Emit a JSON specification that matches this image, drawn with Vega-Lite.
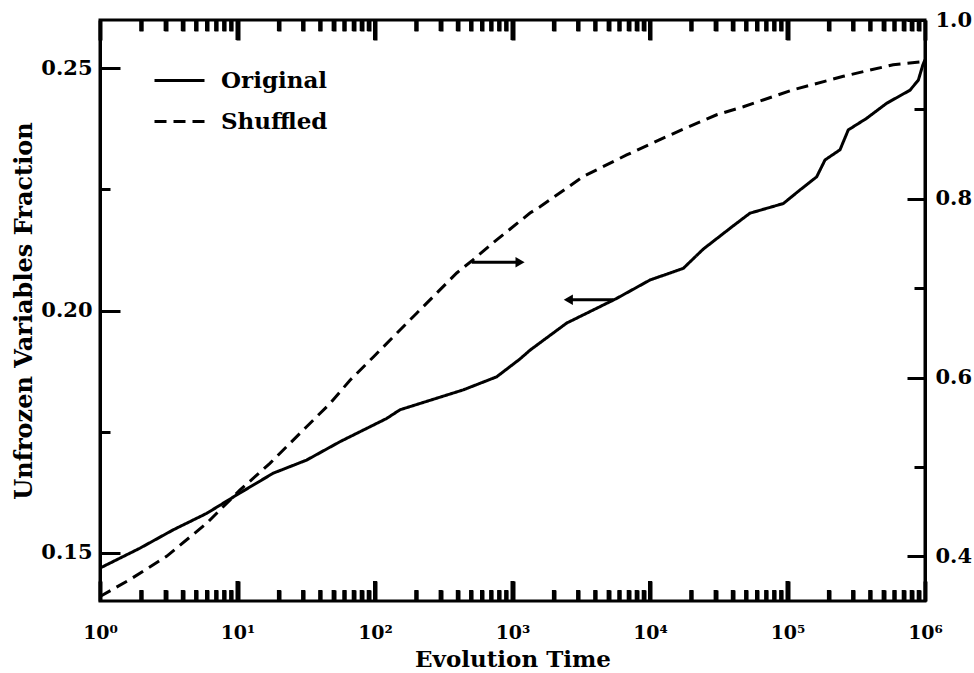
{
  "$schema": "https://vega.github.io/schema/vega-lite/v6.json",
  "width": 825,
  "height": 581,
  "autosize": "none",
  "padding": {"left": 100, "top": 20, "right": 49, "bottom": 72},
  "background": "white",
  "view": {"stroke": "black", "strokeWidth": 3},
  "config": {
    "font": "DejaVu Serif",
    "axis": {
      "domainColor": "black", "domainWidth": 3,
      "labelFont": "DejaVu Serif", "labelFontWeight": "bold", "labelColor": "black",
      "titleFont": "DejaVu Serif", "titleFontWeight": "bold", "titleColor": "black",
      "grid": false, "labelFlush": false, "labelOverlap": false, "labelBound": false
    }
  },
  "datasets": {
    "original": [
      {"t": 1, "v": 0.1468}, {"t": 1.95, "v": 0.1509}, {"t": 3.41, "v": 0.1547}, {"t": 5.97, "v": 0.1581},
      {"t": 10.4, "v": 0.1623}, {"t": 18.2, "v": 0.1664}, {"t": 31.8, "v": 0.1691}, {"t": 55.6, "v": 0.1729},
      {"t": 121.6, "v": 0.1777}, {"t": 152, "v": 0.1795}, {"t": 438, "v": 0.1836}, {"t": 767, "v": 0.1863},
      {"t": 1135, "v": 0.1900}, {"t": 1340, "v": 0.1918}, {"t": 2477, "v": 0.1974}, {"t": 5728, "v": 0.2025},
      {"t": 10000, "v": 0.2063}, {"t": 17458, "v": 0.2087}, {"t": 24434, "v": 0.2127}, {"t": 40365, "v": 0.2175},
      {"t": 53333, "v": 0.2201}, {"t": 93325, "v": 0.2221}, {"t": 123310, "v": 0.2249}, {"t": 162930, "v": 0.2276},
      {"t": 187500, "v": 0.2311}, {"t": 241000, "v": 0.2332}, {"t": 276700, "v": 0.2373}, {"t": 376700, "v": 0.2397},
      {"t": 526000, "v": 0.2428}, {"t": 778000, "v": 0.2455}, {"t": 895000, "v": 0.2476}, {"t": 964000, "v": 0.2507},
      {"t": 1000000, "v": 0.2518}
    ],
    "shuffled": [
      {"t": 1, "v": 0.355}, {"t": 1.65, "v": 0.374}, {"t": 3.05, "v": 0.400}, {"t": 5.97, "v": 0.437},
      {"t": 10.4, "v": 0.474}, {"t": 17.2, "v": 0.504}, {"t": 31.8, "v": 0.545}, {"t": 47.1, "v": 0.571},
      {"t": 65.8, "v": 0.597}, {"t": 97.3, "v": 0.623}, {"t": 201, "v": 0.672}, {"t": 393, "v": 0.717},
      {"t": 519, "v": 0.732}, {"t": 767, "v": 0.754}, {"t": 1340, "v": 0.784}, {"t": 1585, "v": 0.791},
      {"t": 3273, "v": 0.825}, {"t": 6761, "v": 0.849}, {"t": 14791, "v": 0.873}, {"t": 23120, "v": 0.886},
      {"t": 30550, "v": 0.894}, {"t": 47750, "v": 0.903}, {"t": 110150, "v": 0.922}, {"t": 254700, "v": 0.937},
      {"t": 587500, "v": 0.950}, {"t": 920000, "v": 0.953}, {"t": 1000000, "v": 0.955}
    ],
    "arrowLeft": [{"t0": 5408, "t1": 2546, "v": 0.2022}],
    "arrowRight": [{"t0": 505, "t1": 1135, "v": 0.729}],
    "majorTicks": [{"t": 10}, {"t": 100}, {"t": 1000}, {"t": 10000}, {"t": 100000}],
    "minorTicks": [
      {"t": 2}, {"t": 3}, {"t": 4}, {"t": 5}, {"t": 6}, {"t": 7}, {"t": 8}, {"t": 9},
      {"t": 20}, {"t": 30}, {"t": 40}, {"t": 50}, {"t": 60}, {"t": 70}, {"t": 80}, {"t": 90},
      {"t": 200}, {"t": 300}, {"t": 400}, {"t": 500}, {"t": 600}, {"t": 700}, {"t": 800}, {"t": 900},
      {"t": 2000}, {"t": 3000}, {"t": 4000}, {"t": 5000}, {"t": 6000}, {"t": 7000}, {"t": 8000}, {"t": 9000},
      {"t": 20000}, {"t": 30000}, {"t": 40000}, {"t": 50000}, {"t": 60000}, {"t": 70000}, {"t": 80000}, {"t": 90000},
      {"t": 200000}, {"t": 300000}, {"t": 400000}, {"t": 500000}, {"t": 600000}, {"t": 700000}, {"t": 800000}, {"t": 900000}
    ]
  },
  "layer": [
    {
      "data": {"name": "original"},
      "mark": {"type": "line", "color": "black", "strokeWidth": 3},
      "encoding": {
        "x": {
          "field": "t", "type": "quantitative",
          "scale": {"type": "log", "domain": [1, 1000000], "nice": false},
          "axis": {
            "orient": "bottom", "title": "Evolution Time", "titleFontSize": 23, "titlePadding": -3,
            "values": [1,2,3,4,5,6,7,8,9,10,20,30,40,50,60,70,80,90,100,200,300,400,500,600,700,800,900,1000,2000,3000,4000,5000,6000,7000,8000,9000,10000,20000,30000,40000,50000,60000,70000,80000,90000,100000,200000,300000,400000,500000,600000,700000,800000,900000,1000000],
            "labelExpr": "abs(log(datum.value)/LN10 - round(log(datum.value)/LN10)) < 0.001 ? '10' + ['⁰','¹','²','³','⁴','⁵','⁶'][round(log(datum.value)/LN10)] : ''",
            "labelFontSize": 19, "labelPadding": 42,
            "domain": false, "tickColor": "black", "tickWidth": 4,
            "tickSize": {"condition": {"test": "abs(log(datum.value)/LN10 - round(log(datum.value)/LN10)) < 0.001", "value": -20}, "value": -11}
          }
        },
        "y": {
          "field": "v", "type": "quantitative",
          "scale": {"domain": [0.14, 0.26], "nice": false, "zero": false},
          "axis": {
            "orient": "left", "title": "Unfrozen Variables Fraction", "titleFontSize": 24, "titlePadding": 4,
            "values": [0.15, 0.175, 0.2, 0.225, 0.25],
            "labelExpr": "abs(datum.value*20 - round(datum.value*20)) < 0.001 ? format(datum.value, '.2f') : ''",
            "labelFontSize": 21, "labelPadding": 28, "tickColor": "black", "tickWidth": 3,
            "tickSize": {"condition": {"test": "abs(datum.value*20 - round(datum.value*20)) < 0.001", "value": -20}, "value": -10}
          }
        },
        "strokeDash": {
          "datum": "Original", "type": "nominal",
          "scale": {"domain": ["Original", "Shuffled"], "range": [[1, 0], [12, 7]]},
          "legend": {
            "orient": "none", "legendX": 53, "legendY": 34, "title": null,
            "symbolType": "stroke", "symbolSize": 2500, "symbolStrokeWidth": 3, "symbolStrokeColor": "black",
            "labelFont": "DejaVu Serif", "labelFontWeight": "bold", "labelFontSize": 23, "labelColor": "black",
            "labelOffset": 15, "rowPadding": 2, "padding": 0
          }
        }
      }
    },
    {
      "data": {"name": "shuffled"},
      "mark": {"type": "line", "color": "black", "strokeWidth": 3},
      "encoding": {
        "x": {
          "field": "t", "type": "quantitative",
          "scale": {"type": "log", "domain": [1, 1000000], "nice": false},
          "axis": {
            "orient": "top", "title": null, "labels": false,
            "values": [1,2,3,4,5,6,7,8,9,10,20,30,40,50,60,70,80,90,100,200,300,400,500,600,700,800,900,1000,2000,3000,4000,5000,6000,7000,8000,9000,10000,20000,30000,40000,50000,60000,70000,80000,90000,100000,200000,300000,400000,500000,600000,700000,800000,900000,1000000],
            "domain": false, "tickColor": "black", "tickWidth": 4,
            "tickSize": {"condition": {"test": "abs(log(datum.value)/LN10 - round(log(datum.value)/LN10)) < 0.001", "value": -20}, "value": -11}
          }
        },
        "y": {
          "field": "v", "type": "quantitative",
          "scale": {"domain": [0.35, 1.0], "nice": false, "zero": false},
          "axis": {
            "orient": "right", "title": null,
            "values": [0.4, 0.5, 0.6, 0.7, 0.8, 0.9, 1.0],
            "labelExpr": "abs(datum.value*5 - round(datum.value*5)) < 0.001 ? format(datum.value, '.1f') : ''",
            "labelFontSize": 21, "labelPadding": 28, "tickColor": "black", "tickWidth": 3,
            "tickSize": {"condition": {"test": "abs(datum.value*5 - round(datum.value*5)) < 0.001", "value": -18}, "value": -11}
          }
        },
        "strokeDash": {
          "datum": "Shuffled", "type": "nominal",
          "scale": {"domain": ["Original", "Shuffled"], "range": [[1, 0], [12, 7]]}
        }
      }
    },
    {
      "data": {"name": "majorTicks"},
      "mark": {"type": "tick", "orient": "vertical", "color": "black", "opacity": 1, "size": 20, "thickness": 4, "yOffset": -10},
      "encoding": {
        "x": {"field": "t", "type": "quantitative", "scale": {"type": "log", "domain": [1, 1000000], "nice": false}, "axis": null},
        "y": {"datum": 0.14, "type": "quantitative", "scale": {"domain": [0.14, 0.26], "nice": false, "zero": false}, "axis": null}
      }
    },
    {
      "data": {"name": "minorTicks"},
      "mark": {"type": "tick", "orient": "vertical", "color": "black", "opacity": 1, "size": 11, "thickness": 4, "yOffset": -5.5},
      "encoding": {
        "x": {"field": "t", "type": "quantitative", "scale": {"type": "log", "domain": [1, 1000000], "nice": false}, "axis": null},
        "y": {"datum": 0.14, "type": "quantitative", "scale": {"domain": [0.14, 0.26], "nice": false, "zero": false}, "axis": null}
      }
    },
    {
      "data": {"name": "majorTicks"},
      "mark": {"type": "tick", "orient": "vertical", "color": "black", "opacity": 1, "size": 20, "thickness": 4, "yOffset": 10},
      "encoding": {
        "x": {"field": "t", "type": "quantitative", "scale": {"type": "log", "domain": [1, 1000000], "nice": false}, "axis": null},
        "y": {"datum": 0.26, "type": "quantitative", "scale": {"domain": [0.14, 0.26], "nice": false, "zero": false}, "axis": null}
      }
    },
    {
      "data": {"name": "minorTicks"},
      "mark": {"type": "tick", "orient": "vertical", "color": "black", "opacity": 1, "size": 11, "thickness": 4, "yOffset": 5.5},
      "encoding": {
        "x": {"field": "t", "type": "quantitative", "scale": {"type": "log", "domain": [1, 1000000], "nice": false}, "axis": null},
        "y": {"datum": 0.26, "type": "quantitative", "scale": {"domain": [0.14, 0.26], "nice": false, "zero": false}, "axis": null}
      }
    },
    {
      "data": {"name": "arrowLeft"},
      "mark": {"type": "rule", "color": "black", "strokeWidth": 3},
      "encoding": {
        "x": {"field": "t0", "type": "quantitative", "scale": {"type": "log", "domain": [1, 1000000], "nice": false}, "axis": null},
        "x2": {"field": "t1"},
        "y": {"field": "v", "type": "quantitative", "scale": {"domain": [0.14, 0.26], "nice": false, "zero": false}, "axis": null}
      }
    },
    {
      "data": {"name": "arrowLeft"},
      "mark": {"type": "point", "shape": "triangle-left", "filled": true, "color": "black", "size": 110, "opacity": 1},
      "encoding": {
        "x": {"field": "t1", "type": "quantitative", "scale": {"type": "log", "domain": [1, 1000000], "nice": false}, "axis": null},
        "y": {"field": "v", "type": "quantitative", "scale": {"domain": [0.14, 0.26], "nice": false, "zero": false}, "axis": null}
      }
    },
    {
      "data": {"name": "arrowRight"},
      "mark": {"type": "rule", "color": "black", "strokeWidth": 3},
      "encoding": {
        "x": {"field": "t0", "type": "quantitative", "scale": {"type": "log", "domain": [1, 1000000], "nice": false}, "axis": null},
        "x2": {"field": "t1"},
        "y": {"field": "v", "type": "quantitative", "scale": {"domain": [0.35, 1.0], "nice": false, "zero": false}, "axis": null}
      }
    },
    {
      "data": {"name": "arrowRight"},
      "mark": {"type": "point", "shape": "triangle-right", "filled": true, "color": "black", "size": 110, "opacity": 1},
      "encoding": {
        "x": {"field": "t1", "type": "quantitative", "scale": {"type": "log", "domain": [1, 1000000], "nice": false}, "axis": null},
        "y": {"field": "v", "type": "quantitative", "scale": {"domain": [0.35, 1.0], "nice": false, "zero": false}, "axis": null}
      }
    }
  ],
  "resolve": {"scale": {"y": "independent"}, "axis": {"x": "independent", "y": "independent"}}
}
